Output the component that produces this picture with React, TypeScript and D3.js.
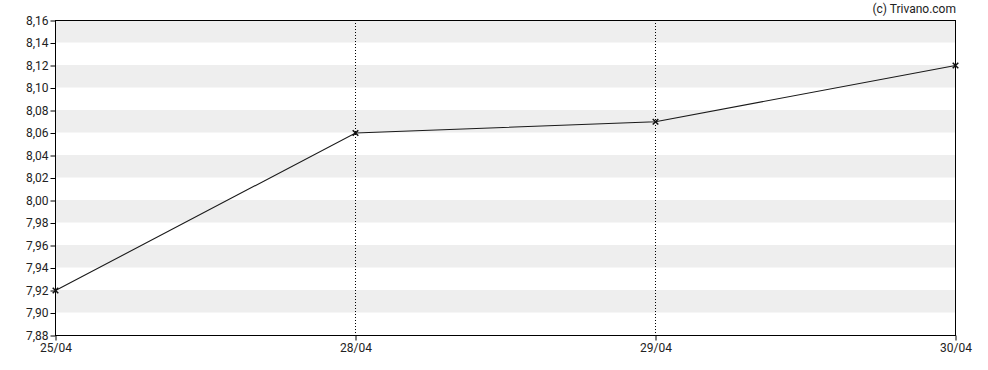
import * as d3 from "d3";
import { useEffect, useRef } from "react";

const dates = ["25/04", "28/04", "29/04", "30/04"];
const prices = [7.92, 8.06, 8.07, 8.12];
const yTicks = [7.88, 7.9, 7.92, 7.94, 7.96, 7.98, 8.0, 8.02, 8.04, 8.06, 8.08, 8.1, 8.12, 8.14, 8.16];

export default function App() {
  const ref = useRef<SVGSVGElement | null>(null);

  useEffect(() => {
    if (!ref.current) return;
    const svg = d3.select(ref.current);
    svg.selectAll("*").remove();

    const width = 988;
    const height = 370;
    const m = { left: 55, right: 33, top: 20, bottom: 35 };
    const font = "Roboto, 'Open Sans', sans-serif";

    const x = d3
      .scalePoint<string>()
      .domain(dates)
      .range([m.left, width - m.right]);
    const y = d3
      .scaleLinear()
      .domain([7.88, 8.16])
      .range([height - m.bottom, m.top]);

    svg.attr("width", width).attr("height", height);

    // alternating bands
    const bands = svg.append("g");
    for (let i = 0; i < yTicks.length - 1; i++) {
      if (i % 2 === 1) {
        bands
          .append("rect")
          .attr("x", m.left)
          .attr("y", y(yTicks[i + 1]))
          .attr("width", width - m.right - m.left)
          .attr("height", y(yTicks[i]) - y(yTicks[i + 1]))
          .attr("fill", "#eeeeee");
      }
    }

    // vertical dotted lines
    svg
      .append("g")
      .selectAll("line")
      .data(dates.slice(1, -1))
      .join("line")
      .attr("x1", (d) => x(d)! + 0.5)
      .attr("x2", (d) => x(d)! + 0.5)
      .attr("y1", m.top)
      .attr("y2", height - m.bottom)
      .attr("stroke", "#000")
      .attr("stroke-width", 1)
      .attr("stroke-dasharray", "1,2");

    // frame
    svg
      .append("rect")
      .attr("x", m.left + 0.5)
      .attr("y", m.top + 0.5)
      .attr("width", width - m.right - m.left)
      .attr("height", height - m.bottom - m.top)
      .attr("fill", "none")
      .attr("stroke", "#000")
      .attr("stroke-width", 1);

    // y axis
    const yAxis = svg
      .append("g")
      .attr("transform", `translate(${m.left + 0.5},0.5)`)
      .call(
        d3
          .axisLeft(y)
          .tickValues(yTicks)
          .tickSize(5)
          .tickPadding(2)
          .tickFormat((d) => d3.format(".2f")(d as number).replace(".", ","))
      );
    yAxis.select(".domain").remove();
    yAxis.selectAll("text").attr("font-family", font).attr("font-size", 12).attr("fill", "#222");

    // x axis
    const xAxis = svg
      .append("g")
      .attr("transform", `translate(0.5,${height - m.bottom + 0.5})`)
      .call(d3.axisBottom(x).tickSize(5).tickPadding(3));
    xAxis.select(".domain").remove();
    xAxis.selectAll("text").attr("font-family", font).attr("font-size", 12).attr("fill", "#222");

    // line
    const line = d3
      .line<number>()
      .x((_, i) => x(dates[i])! + 0.5)
      .y((d) => y(d) + 0.5);
    svg
      .append("path")
      .datum(prices)
      .attr("d", line)
      .attr("fill", "none")
      .attr("stroke", "#1a1a1a")
      .attr("stroke-width", 1.1);

    // markers
    const sym = d3.symbol(d3.symbolTimes, 22);
    svg
      .append("g")
      .selectAll("path")
      .data(prices)
      .join("path")
      .attr("d", sym)
      .attr("transform", (d, i) => `translate(${x(dates[i])! + 0.5},${y(d) + 0.5})`)
      .attr("fill", "#111")
      .attr("stroke", "#111")
      .attr("stroke-width", 1.5);

    // credit
    svg
      .append("text")
      .attr("x", width - m.right + 1)
      .attr("y", 13)
      .attr("text-anchor", "end")
      .attr("font-family", font)
      .attr("font-size", 12)
      .attr("fill", "#222")
      .text("(c) Trivano.com");
  }, []);

  return <svg ref={ref} style={{ position: "absolute", left: 0, top: 0 }} />;
}
